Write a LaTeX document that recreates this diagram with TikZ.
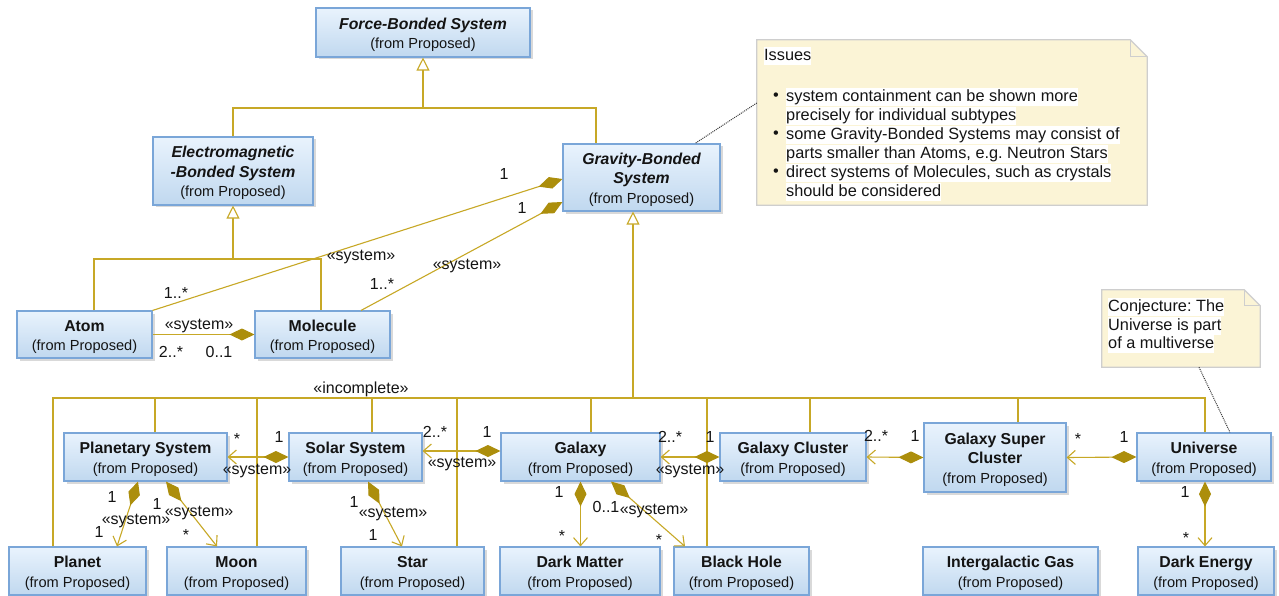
\documentclass[tikz,border=0pt]{standalone}
\usepackage{fontspec}
\setmainfont{Liberation Sans}
\frenchspacing
\usetikzlibrary{arrows.meta,shadows,calc}
\definecolor{boxtop}{RGB}{233,243,253}
\definecolor{boxbot}{RGB}{192,216,239}
\definecolor{boxline}{RGB}{122,166,216}
\definecolor{gold}{RGB}{199,168,38}
\definecolor{dgold}{RGB}{172,142,12}
\definecolor{notefill}{RGB}{251,244,214}
\definecolor{noteline}{RGB}{206,206,206}
\definecolor{txt}{RGB}{20,20,20}
\definecolor{linkgray}{RGB}{60,60,60}
\newcommand\ttl{\bfseries}
\newcommand\ttli{\bfseries\itshape}
\newcommand\subt{\fontsize{14.6}{19.5}\selectfont (from Proposed)}
\newcommand\uclass[6]{\node[umlbox, minimum width={(#4-#2)*1pt}, minimum height={(#5-#3)*1pt}] (#1) at ({(#2+#4)/2},{(#3+#5)/2}) {\begin{tabular}{@{}c@{}}\noalign{\vskip 5pt}#6\end{tabular}};}
\tikzset{
  umlbox/.style={rectangle, draw=boxline, line width=1.1pt, top color=boxtop, bottom color=boxbot, inner sep=0pt, text=txt, font=\fontsize{15.8}{19.5}\selectfont, drop shadow={shadow xshift=2.5pt, shadow yshift=-2.5pt, fill=black, opacity=0.15}},
  gen/.style={draw=gold, line width=1.1pt},
  genarrow/.style={gen, -{Triangle[open, length=13pt, width=13pt, fill=white]}},
  comp/.style={draw=gold, line width=1.1pt, arrows={Diamond[length=25pt,width=12pt,color=dgold]-Straight Barb[length=8pt,width=14pt]}},
  compn/.style={draw=gold, line width=1.1pt, arrows={Diamond[length=25pt,width=12pt,color=dgold]-}},
  lbl/.style={font=\fontsize{16}{19}\selectfont, inner sep=0pt, text height=11.5pt, text depth=0pt, text=txt},
  note/.style={fill=notefill, draw=noteline, line width=1.2pt},
  ntxt/.style={font=\fontsize{16.3}{19}\selectfont, fill=white, inner sep=0pt, text height=13.5pt, text depth=5pt, anchor=west, text=txt},
  nbul/.style={font=\fontsize{16.3}{19}\selectfont, inner sep=0pt, text=txt},
  nlink/.style={draw=linkgray, densely dotted, line width=1pt}
}
\begin{document}
\begin{tikzpicture}[x=1pt,y=-1pt]
\fill[white] (0,0) rectangle (1279,596);
\useasboundingbox (0,0) rectangle (1279,596);

% notes
\node[inner sep=0pt, minimum width=390pt, minimum height=165pt] (issues) at (952,122.5) {};
\filldraw[note] (issues.north west) -- ([xshift=-17pt]issues.north east) -- ([yshift=-17pt]issues.north east) -- (issues.south east) -- (issues.south west) -- cycle;
\draw[note, fill=none] ([xshift=-17pt]issues.north east) |- ([yshift=-17pt]issues.north east);
\node[ntxt] (i0) at (764,56) {Issues};
\node[nbul] (b1) at (776,97) {•};
\node[nbul] (b2) at (776,135) {•};
\node[nbul] (b3) at (776,173) {•};
\node[ntxt] (i1) at (786,97) {system containment can be shown more};
\node[ntxt] (i2) at (786,116) {precisely for individual subtypes};
\node[ntxt] (i3) at (786,135) {some Gravity-Bonded Systems may consist of};
\node[ntxt] (i4) at (786,154) {parts smaller than Atoms, e.g. Neutron Stars};
\node[ntxt] (i5) at (786,173) {direct systems of Molecules, such as crystals};
\node[ntxt] (i6) at (786,192) {should be considered};

\node[inner sep=0pt, minimum width=158pt, minimum height=77pt] (conj) at (1181,328.5) {};
\filldraw[note] (conj.north west) -- ([xshift=-16pt]conj.north east) -- ([yshift=-16pt]conj.north east) -- (conj.south east) -- (conj.south west) -- cycle;
\draw[note, fill=none] ([xshift=-16pt]conj.north east) |- ([yshift=-16pt]conj.north east);
\node[ntxt] (c1) at (1108,307) {Conjecture: The};
\node[ntxt] (c2) at (1108,326) {Universe is part};
\node[ntxt] (c3) at (1108,344) {of a multiverse};

% classes
\uclass{fbs}{316}{8}{530}{57}{\ttli Force-Bonded System\\\subt}
\uclass{ems}{153}{137}{313}{205}{\ttli Electromagnetic\\\ttli -Bonded System\\\subt}
\uclass{gbs}{563}{144}{720}{211}{\ttli Gravity-Bonded\\\ttli System\\\subt}
\uclass{atom}{17}{311}{152}{358}{\ttl Atom\\\subt}
\uclass{mol}{255}{311}{390}{358}{\ttl Molecule\\\subt}
\uclass{ps}{64}{433}{227}{481}{\ttl Planetary System\\\subt}
\uclass{ss}{289}{433}{422}{481}{\ttl Solar System\\\subt}
\uclass{gal}{501}{433}{660}{481}{\ttl Galaxy\\\subt}
\uclass{gc}{720}{433}{866}{481}{\ttl Galaxy Cluster\\\subt}
\uclass{gsc}{924}{423}{1066}{492}{\ttl Galaxy Super\\\ttl Cluster\\\subt}
\uclass{uni}{1137}{433}{1271}{481}{\ttl Universe\\\subt}
\uclass{planet}{9}{547}{146}{595}{\ttl Planet\\\subt}
\uclass{moon}{167}{547}{306}{595}{\ttl Moon\\\subt}
\uclass{star}{341}{547}{484}{595}{\ttl Star\\\subt}
\uclass{dm}{500}{547}{660}{595}{\ttl Dark Matter\\\subt}
\uclass{bh}{674}{547}{809}{595}{\ttl Black Hole\\\subt}
\uclass{ig}{923}{547}{1098}{595}{\ttl Intergalactic Gas\\\subt}
\uclass{de}{1138}{547}{1274}{595}{\ttl Dark Energy\\\subt}

% note links
\draw[nlink] ([yshift=19.5pt]issues.west) -- ([xshift=53.5pt]gbs.north);
\draw[nlink] ([xshift=18pt]conj.south) -- ([xshift=26pt]uni.north);

% generalization trees
\coordinate (jf) at (423,108);
\draw[gen] (ems.north) |- (jf) -| ([xshift=-45.5pt]gbs.north);
\draw[genarrow] (jf) -- (fbs.south);
\coordinate (je) at (233,259);
\draw[gen] ([xshift=9.5pt]atom.north) |- (je) -| ([xshift=-1.5pt]mol.north);
\draw[genarrow] (je) -- (ems.south);
\coordinate (jg) at (633,398);
\foreach \n/\s in {planet/-24.5, ps/9.5, moon/20.5, ss/16.5, star/44.5, gal/10.5, bh/-34.5, gc/17, gsc/23, uni/1}
  \draw[gen] ([xshift=\s pt]\n.north) |- (jg);
\draw[genarrow] (jg) -- ([xshift=-8.5pt]gbs.south);
\node[lbl] (inc) at (361,388) {«incomplete»};

% compositions
\draw[compn] ([yshift=-1.5pt]gbs.west) -- (atom.north east);
\draw[compn] ([yshift=-24.5pt]gbs.west) -- ([xshift=38.5pt]mol.north);
\draw[compn] (mol.west) -- (atom.east);
\draw[comp] (ss.west) -- (ps.east);
\draw[comp] ([yshift=6pt]gal.west) -- ([yshift=6pt]ss.east);
\draw[comp] (gc.west) -- (gal.east);
\draw[comp] (gsc.west) -- (gc.east);
\draw[comp] (uni.west) -- (gsc.east);
\draw[comp] ([xshift=1pt]uni.south) -- ([xshift=-1pt]de.north);
\draw[comp] ([xshift=-7.5pt]ps.south) -- ([xshift=39.5pt]planet.north);
\draw[comp] ([xshift=20.5pt]ps.south) -- ([xshift=-19.5pt]moon.north);
\draw[comp] ([xshift=12.5pt]ss.south) -- ([xshift=-10.5pt]star.north);
\draw[comp] (gal.south) -- (gal.south |- dm.north);
\draw[comp] ([xshift=30.5pt]gal.south) -- ([xshift=-56.5pt]bh.north);

% labels
\node[lbl] (l1) at (504,174) {1};
\node[lbl] (l2) at (361,255) {«system»};
\node[lbl] (l3) at (176,293) {1..*};
\node[lbl] (l4) at (522,208) {1};
\node[lbl] (l5) at (467,264) {«system»};
\node[lbl] (l6) at (382,284) {1..*};
\node[lbl] (l7) at (199,324) {«system»};
\node[lbl] (l8) at (171,352) {2..*};
\node[lbl] (l9) at (219,352) {0..1};
\node[lbl] (l10) at (237,439) {*};
\node[lbl] (l11) at (279,437) {1};
\node[lbl] (l12) at (257,469) {«system»};
\node[lbl] (l13) at (435,432) {2..*};
\node[lbl] (l14) at (487,432) {1};
\node[lbl] (l15) at (462,462) {«system»};
\node[lbl] (l16) at (670,437) {2..*};
\node[lbl] (l17) at (710,437) {1};
\node[lbl] (l18) at (690,469) {«system»};
\node[lbl] (l19) at (876,436) {2..*};
\node[lbl] (l20) at (915,436) {1};
\node[lbl] (l21) at (1078,439) {*};
\node[lbl] (l22) at (1124,437) {1};
\node[lbl] (l23) at (1185,492) {1};
\node[lbl] (l24) at (1186,538) {*};
\node[lbl] (l25) at (112,497) {1};
\node[lbl] (l26) at (136,519) {«system»};
\node[lbl] (l27) at (99,532) {1};
\node[lbl] (l28) at (157,504) {1};
\node[lbl] (l29) at (199,511) {«system»};
\node[lbl] (l30) at (186,535) {*};
\node[lbl] (l31) at (354,502) {1};
\node[lbl] (l32) at (393,512) {«system»};
\node[lbl] (l33) at (373,535) {1};
\node[lbl] (l34) at (559,492) {1};
\node[lbl] (l35) at (562,536) {*};
\node[lbl] (l36) at (606,507) {0..1};
\node[lbl] (l37) at (654,509) {«system»};
\node[lbl] (l38) at (659,540) {*};
\end{tikzpicture}
\end{document}
